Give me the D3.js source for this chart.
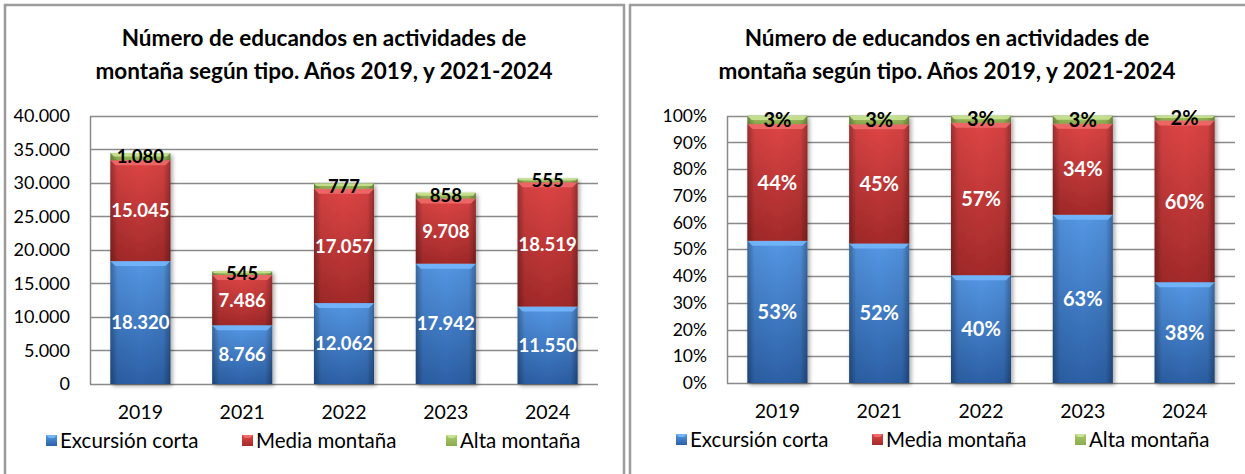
<!DOCTYPE html>
<html lang="es">
<head>
<meta charset="utf-8">
<script src="https://cdn.jsdelivr.net/npm/d3@7"></script>
<style>
  html, body { margin: 0; padding: 0; background: #fff; }
  svg { display: block; font-family: Lato, "Open Sans", sans-serif; }
</style>
</head>
<body>
<svg id="root" width="1245" height="474"></svg>
<script>
// Participantes en actividades de montaña por tipo y año
const years = ["2019", "2021", "2022", "2023", "2024"];
const excursionCorta = [18320, 8766, 12062, 17942, 11550];
const mediaMontana = [15045, 7486, 17057, 9708, 18519];
const altaMontana = [1080, 545, 777, 858, 555];
const seriesNames = ["Excursión corta", "Media montaña", "Alta montaña"];
const countTicks = [0, 5000, 10000, 15000, 20000, 25000, 30000, 35000, 40000];
const shareTicks = [0, 0.1, 0.2, 0.3, 0.4, 0.5, 0.6, 0.7, 0.8, 0.9, 1];
const titleLines = ["Número de educandos en actividades de", "montaña según tipo. Años 2019, y 2021-2024"];

const keys = ["corta", "media", "alta"];
const rows = years.map((y, i) => ({ year: y, corta: excursionCorta[i], media: mediaMontana[i], alta: altaMontana[i] }));

const esLocale = d3.formatLocale({ decimal: ",", thousands: ".", grouping: [3], currency: ["", " €"] });
const fmtCount = esLocale.format(",d");
const fmtShare = d3.format(".0%");

const palette = {
  corta: { top: "#5597e4", bottom: "#2c60a6", bevel: "#74b6fb", label: "#ffffff" },
  media: { top: "#de4545", bottom: "#a42a2a", bevel: "#f06a6a", label: "#ffffff" },
  alta:  { top: "#a9c96a", bottom: "#8cab4c", bevel: "#c8e393", label: "#000000" }
};

const svg = d3.select("#root");
const defs = svg.append("defs");

keys.forEach(k => {
  const g = defs.append("linearGradient").attr("id", "fill-" + k)
    .attr("x1", 0).attr("y1", 0).attr("x2", 0).attr("y2", 1);
  g.append("stop").attr("offset", "0%").attr("stop-color", palette[k].top);
  g.append("stop").attr("offset", "100%").attr("stop-color", palette[k].bottom);
});
// darker side edges for the rounded look of each column
const side = defs.append("linearGradient").attr("id", "side-shade").attr("x1", 0).attr("x2", 1).attr("y1", 0).attr("y2", 0);
[[0, 0.32], [0.12, 0.05], [0.5, 0], [0.88, 0.05], [1, 0.32]].forEach(([o, a]) =>
  side.append("stop").attr("offset", o).attr("stop-color", "#000").attr("stop-opacity", a));
const shadow = defs.append("filter").attr("id", "col-shadow").attr("x", "-20%").attr("y", "-5%").attr("width", "140%").attr("height", "115%");
shadow.append("feGaussianBlur").attr("in", "SourceAlpha").attr("stdDeviation", 2);
shadow.append("feOffset").attr("dx", 2).attr("dy", 2).attr("result", "b");
shadow.append("feComponentTransfer").append("feFuncA").attr("type", "linear").attr("slope", 0.35);
const merge = shadow.append("feMerge");
merge.append("feMergeNode");
merge.append("feMergeNode").attr("in", "SourceGraphic");

function drawPanel(opt) {
  const g = svg.append("g");

  // outer frame
  g.append("path")
    .attr("d", `M${opt.frame.x0},480 V${opt.frame.y0} H${opt.frame.x1} V480`)
    .attr("fill", "none").attr("stroke", "#9c9c9c").attr("stroke-width", 2.5);

  // title
  const t = g.append("text").attr("text-anchor", "middle").attr("font-weight", 700)
    .attr("font-size", 22.5).attr("fill", "#000");
  titleLines.forEach((line, i) => {
    t.append("tspan").attr("x", opt.titleX).attr("y", 46 + i * 33).text(line);
  });

  const x = d3.scaleBand().domain(years).range([opt.left, opt.right]).paddingInner(0.41).paddingOuter(0.2);
  const y = d3.scaleLinear().domain(opt.domain).range([opt.bottom, opt.top]);

  // gridlines
  g.append("g").selectAll("line").data(opt.ticks).join("line")
    .attr("x1", opt.left).attr("x2", opt.right)
    .attr("y1", d => Math.round(y(d)) + 0.5).attr("y2", d => Math.round(y(d)) + 0.5)
    .attr("stroke", "#8a8a8a").attr("stroke-width", 1.3);

  // y axis
  const yAxis = g.append("g").attr("transform", `translate(${opt.left},0)`)
    .call(d3.axisLeft(y).tickValues(opt.ticks).tickFormat(opt.tickFormat).tickSize(0).tickPadding(opt.tickPad));
  yAxis.select(".domain").attr("stroke", "#8a8a8a").attr("stroke-width", 1.5);
  yAxis.selectAll("text").attr("font-size", opt.tickSize).attr("fill", "#000").attr("font-family", "Lato, sans-serif");

  // x axis labels
  const xAxis = g.append("g").attr("transform", `translate(0,${opt.bottom})`)
    .call(d3.axisBottom(x).tickSize(0).tickPadding(opt.xPad));
  xAxis.select(".domain").remove();
  xAxis.selectAll("text").attr("font-size", 19.5).attr("fill", "#000").attr("font-family", "Lato, sans-serif");

  const stacked = d3.stack().keys(keys).offset(opt.offset)(rows);

  const cols = g.append("g");
  years.forEach((yr, i) => {
    const col = cols.append("g").attr("filter", "url(#col-shadow)");
    stacked.forEach(layer => {
      const k = layer.key;
      const seg = layer[i];
      const x0 = x(yr), w = x.bandwidth();
      const yTop = y(seg[1]), yBot = y(seg[0]);
      const h = yBot - yTop;
      col.append("rect").attr("x", x0).attr("y", yTop).attr("width", w).attr("height", h)
        .attr("fill", `url(#fill-${k})`);
      col.append("rect").attr("x", x0).attr("y", yTop).attr("width", w).attr("height", h)
        .attr("fill", "url(#side-shade)");
      const bv = Math.min(5, h / 2);
      col.append("path")
        .attr("d", `M${x0},${yTop} H${x0 + w} L${x0 + w - bv},${yTop + bv} H${x0 + bv} Z`)
        .attr("fill", palette[k].bevel).attr("opacity", 0.9);
    });
  });

  // segment labels
  const labels = g.append("g").attr("font-weight", 700).attr("font-size", opt.labelSize).attr("text-anchor", "middle");
  stacked.forEach(layer => {
    const k = layer.key;
    layer.forEach((seg, i) => {
      const value = seg.data[k];
      const txt = opt.offset === d3.stackOffsetExpand ? fmtShare(seg[1] - seg[0]) : fmtCount(value);
      labels.append("text")
        .attr("x", x(years[i]) + x.bandwidth() / 2)
        .attr("y", (y(seg[0]) + y(seg[1])) / 2)
        .attr("dy", "0.36em")
        .attr("fill", palette[k].label)
        .text(txt);
    });
  });

  // legend
  const lg = g.append("g").attr("font-size", 20.5).attr("font-family", "Lato, sans-serif");
  seriesNames.forEach((name, i) => {
    const k = keys[i];
    const lx = opt.legendX[i];
    lg.append("rect").attr("x", lx).attr("y", opt.legendY - 13).attr("width", 11).attr("height", 11)
      .attr("fill", `url(#fill-${k})`);
    lg.append("path").attr("d", `M${lx},${opt.legendY - 13} h11 l-3,3 h-5 z`).attr("fill", palette[k].bevel);
    lg.append("text").attr("x", lx + 14).attr("y", opt.legendY).attr("fill", "#000").text(name);
  });
}

drawPanel({
  frame: { x0: 5, y0: 5, x1: 624 },
  titleX: 324,
  left: 90, right: 598, top: 115.7, bottom: 384,
  domain: [0, 40000], ticks: countTicks, tickFormat: d => fmtCount(d), tickPad: 20, tickSize: 18,
  offset: d3.stackOffsetNone, xPad: 21, labelSize: 18.5,
  legendX: [46, 242, 446], legendY: 448
});

drawPanel({
  frame: { x0: 630, y0: 5, x1: 1250 },
  titleX: 947,
  left: 727, right: 1235, top: 115.7, bottom: 383,
  domain: [0, 1], ticks: shareTicks, tickFormat: d => fmtShare(d), tickPad: 20, tickSize: 17.5,
  offset: d3.stackOffsetExpand, xPad: 21, labelSize: 20,
  legendX: [676, 872, 1075], legendY: 447
});
</script>
</body>
</html>
